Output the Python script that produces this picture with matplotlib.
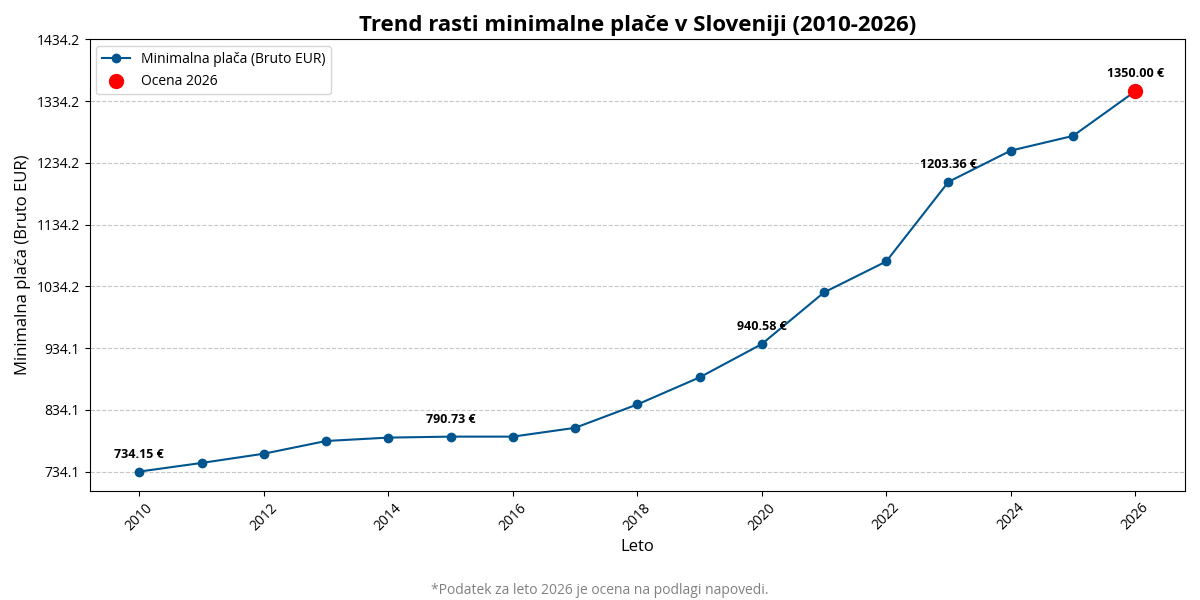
import numpy as np
import matplotlib
matplotlib.use("Agg")
import matplotlib.pyplot as plt

plt.rcParams['font.family'] = ['Open Sans', 'DejaVu Sans']

years = [2010, 2011, 2012, 2013, 2014, 2015, 2016, 2017, 2018,
         2019, 2020, 2021, 2022, 2023, 2024, 2025, 2026]
wages = [734.15, 748.10, 763.06, 783.66, 789.15, 790.73, 790.73, 804.96, 842.79,
         886.63, 940.58, 1024.24, 1074.43, 1203.36, 1253.90, 1277.72, 1350.00]
labeled_years = [2010, 2015, 2020, 2023, 2026]


def main():
    fig, ax = plt.subplots(figsize=(12, 6), dpi=100)

    ax.plot(years, wages, marker='o', color='#00558f', linewidth=1.5,
            markersize=6, label='Minimalna plača (Bruto EUR)')
    ax.scatter([years[-1]], [wages[-1]], color='red', s=100, zorder=5,
               label='Ocena 2026')

    for y, w in zip(years, wages):
        if y in labeled_years:
            ax.annotate(f"{w:.2f} €", (y, w), textcoords='offset points',
                        xytext=(0, 10), ha='center', fontsize=9, fontweight='bold')

    ticks = np.arange(min(wages), max(wages) + 100, 100)
    ax.set_yticks(ticks)
    ax.set_yticklabels([f"{t:.1f}" for t in ticks])
    plt.xticks(rotation=45)

    ax.set_title('Trend rasti minimalne plače v Sloveniji (2010-2026)',
                 fontsize=16, fontweight='bold')
    ax.set_xlabel('Leto', fontsize=12)
    ax.set_ylabel('Minimalna plača (Bruto EUR)', fontsize=12)
    ax.grid(axis='y', linestyle='--', alpha=0.7)
    ax.legend(loc='upper left')

    fig.text(0.5, 0.01, '*Podatek za leto 2026 je ocena na podlagi napovedi.',
             ha='center', fontsize=10, color='gray')
    plt.tight_layout(rect=[0, 0.05, 1, 1])
    plt.savefig('out.png')


if __name__ == "__main__":
    main()
